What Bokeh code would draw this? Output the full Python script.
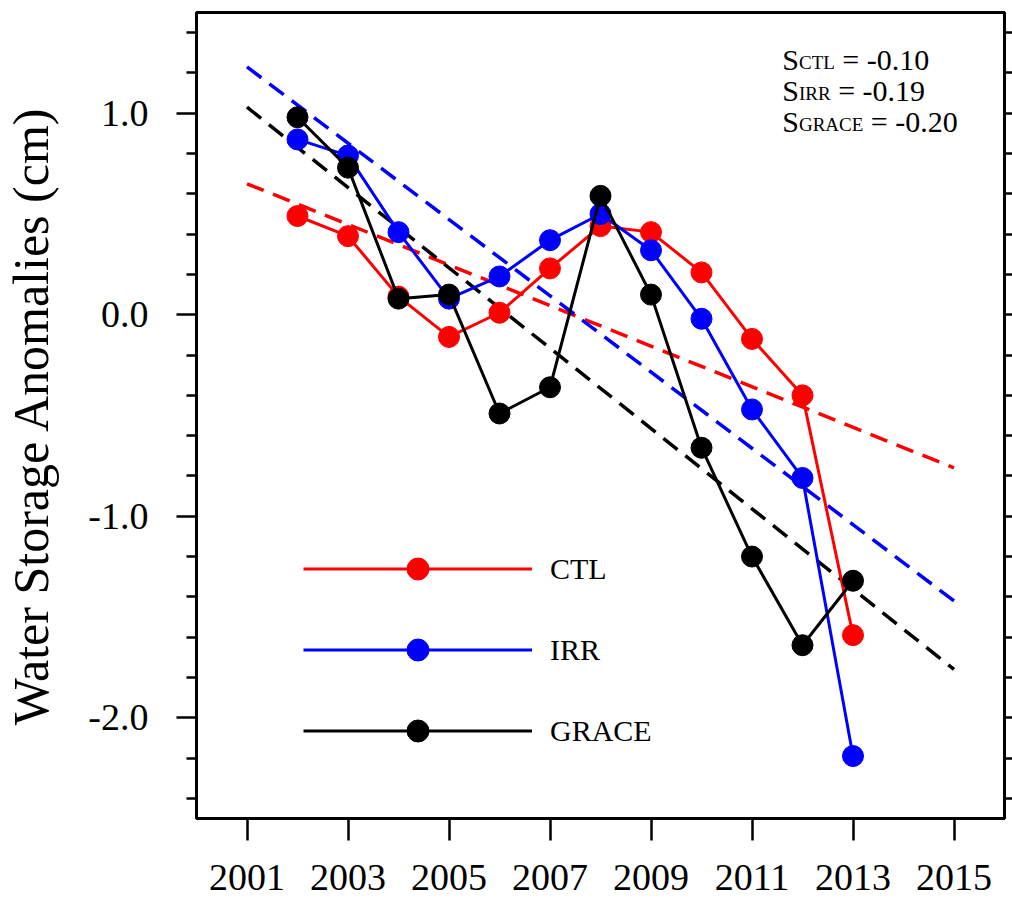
from bokeh.plotting import figure
from bokeh.models import LinearAxis, FixedTicker, Range1d, Legend, LegendItem, CustomLabelingPolicy
from bokeh.core.properties import value
from bokeh.embed import file_html
from bokeh.resources import INLINE

# ---- data ----
years = [2002, 2003, 2004, 2005, 2006, 2007, 2008, 2009, 2010, 2011, 2012, 2013]
ctl = [0.49, 0.39, 0.09, -0.11, 0.01, 0.23, 0.44, 0.41, 0.21, -0.12, -0.40, -1.59]
irr = [0.87, 0.79, 0.41, 0.08, 0.19, 0.37, 0.50, 0.32, -0.02, -0.47, -0.81, -2.19]
grace = [0.98, 0.73, 0.08, 0.10, -0.49, -0.36, 0.59, 0.10, -0.66, -1.20, -1.64, -1.32]

trend_years = [2001, 2015]
ctl_trend = [0.65, -0.76]
irr_trend = [1.23, -1.42]
grace_trend = [1.03, -1.76]

series_names = ["CTL", "IRR", "GRACE"]
series_colors = ["#ff0000", "#0000ff", "#000000"]
slopes = ["-0.10", "-0.19", "-0.20"]

x_ticks = [2001, 2003, 2005, 2007, 2009, 2011, 2013, 2015]
x_tick_labels = ["2001", "2003", "2005", "2007", "2009", "2011", "2013", "2015"]
y_ticks = [-2.0, -1.0, 0.0, 1.0]
y_tick_labels = ["-2.0", "-1.0", "0.0", "1.0"]
y_minor = [-2.4, -2.2, -1.8, -1.6, -1.4, -1.2, -0.8, -0.6, -0.4, -0.2,
           0.2, 0.4, 0.6, 0.8, 1.2, 1.4]

FONT = "Liberation Serif"

p = figure(width=1012, height=899, x_range=Range1d(2000, 2016), y_range=Range1d(-2.5, 1.5),
           output_backend="svg", toolbar_location=None,
           min_border_left=196, min_border_right=8, min_border_top=12, min_border_bottom=81)
p.grid.visible = False
p.outline_line_color = "black"
p.outline_line_width = 3
p.background_fill_color = "white"
p.border_fill_color = "white"

# x axis
xa = p.xaxis[0]
xa.ticker = FixedTicker(ticks=x_ticks, minor_ticks=[])
xa.major_label_overrides = {t: l for t, l in zip(x_ticks, x_tick_labels)}
xa.major_tick_out = 22
xa.major_tick_in = 0
xa.minor_tick_out = 0
xa.minor_tick_in = 0
xa.major_tick_line_width = 2.5
xa.axis_line_width = 3
xa.major_label_text_font = FONT
xa.major_label_text_font_size = "38px"
xa.major_label_text_color = "black"
xa.major_label_standoff = 24

# y axis
ya = p.yaxis[0]
ya.ticker = FixedTicker(ticks=y_ticks, minor_ticks=y_minor)
ya.major_label_overrides = {t: l for t, l in zip(y_ticks, y_tick_labels)}
ya.major_tick_out = 20
ya.major_tick_in = 0
ya.minor_tick_out = 10
ya.minor_tick_in = 0
ya.major_tick_line_width = 2.5
ya.minor_tick_line_width = 2.5
ya.axis_line_width = 3
ya.major_label_text_font = FONT
ya.major_label_text_font_size = "38px"
ya.major_label_text_color = "black"
ya.major_label_standoff = 28
ya.axis_label = "Water Storage Anomalies (cm)"
ya.axis_label_text_font = FONT
ya.axis_label_text_font_size = "50px"
ya.axis_label_text_font_style = "normal"
ya.axis_label_text_color = "black"
ya.axis_label_standoff = 26

# right axis (ticks only, no labels)
no_labels = CustomLabelingPolicy(code="""
try { for (let i = 0; i < indices.size; i++) { indices.unset(i) } } catch (e) {}
return indices
""")
ra = LinearAxis(ticker=FixedTicker(ticks=y_ticks, minor_ticks=y_minor))
ra.major_tick_out = 8
ra.major_tick_in = 0
ra.minor_tick_out = 8
ra.minor_tick_in = 0
ra.major_tick_line_width = 2.5
ra.minor_tick_line_width = 2.5
ra.axis_line_width = 3
ra.major_label_text_font_size = "0px"
ra.major_label_standoff = 0
ra.major_label_policy = no_labels
p.add_layout(ra, "right")

# trend lines
for tr, c in zip([ctl_trend, irr_trend, grace_trend], series_colors):
    p.line(trend_years, tr, line_color=c, line_width=3.5, line_dash="18 10")

# data series
items = []
for vals, c, name in zip([ctl, irr, grace], series_colors, series_names):
    lr = p.line(years, vals, line_color=c, line_width=3)
    sr = p.scatter(years, vals, marker="circle", size=21, fill_color=c, line_color=c)
    items.append(LegendItem(label=name, renderers=[lr, sr]))

legend = Legend(items=items, location=(107, 60), glyph_width=229, glyph_height=55,
                label_height=55, label_standoff=18, spacing=26, padding=0, margin=0,
                border_line_alpha=0, background_fill_alpha=0,
                label_text_font=FONT, label_text_font_size="30px",
                label_text_color="black")
p.add_layout(legend)

# slope annotation
tw = {"S": 0.556, "C": 0.667, "T": 0.611, "L": 0.611, "I": 0.333, "R": 0.667,
      "G": 0.722, "A": 0.722, "E": 0.611, " ": 0.25}
main_fs = 30
sub_fs = 19
ax, ay = 2011.6, 1.267
row_gap = 31
for i, (name, s) in enumerate(zip(series_names, slopes)):
    yo = i * row_gap
    p.text(x=[ax], y=[ay], text=["S"], x_offset=0, y_offset=yo,
           text_font=value(FONT), text_font_size=f"{main_fs}px",
           text_baseline="alphabetic", text_align="left", text_color="black")
    sx = tw["S"] * main_fs
    p.text(x=[ax], y=[ay], text=[name], x_offset=sx, y_offset=yo + 3,
           text_font=value(FONT), text_font_size=f"{sub_fs}px",
           text_baseline="alphabetic", text_align="left", text_color="black")
    vx = sx + sum(tw[ch] for ch in name) * sub_fs + tw[" "] * main_fs
    p.text(x=[ax], y=[ay], text=["= " + s], x_offset=vx, y_offset=yo,
           text_font=value(FONT), text_font_size=f"{main_fs}px",
           text_baseline="alphabetic", text_align="left", text_color="black")

open("out.html", "w").write(file_html(p, INLINE))
